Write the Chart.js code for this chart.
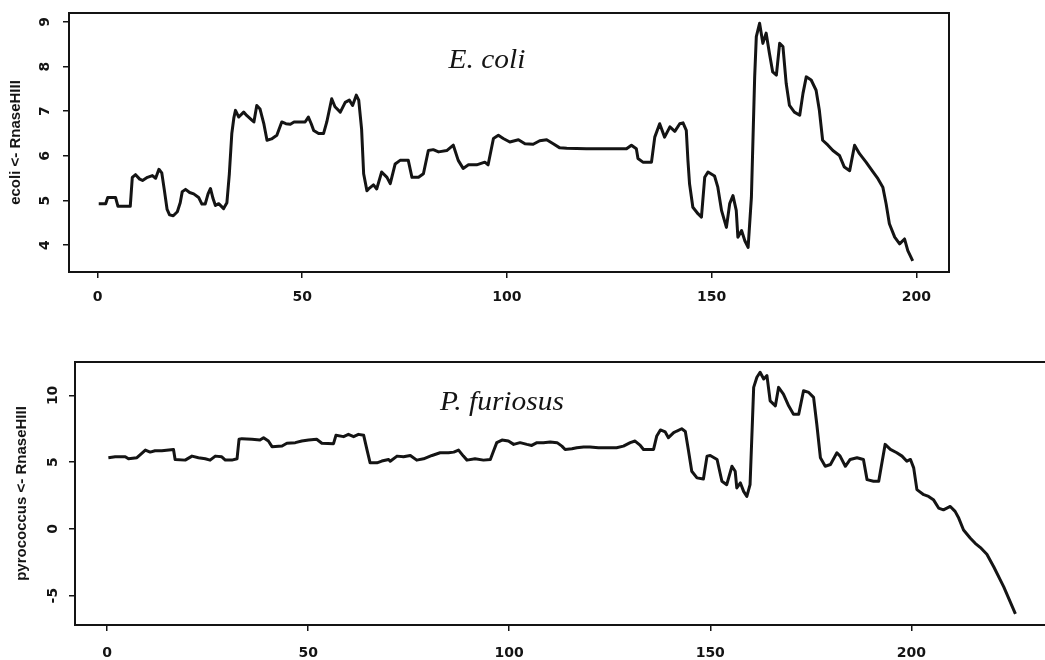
<!DOCTYPE html>
<html>
<head>
<meta charset="utf-8">
<title>RnaseHIII</title>
<script src="https://cdn.jsdelivr.net/npm/chart.js@4.4.1/dist/chart.umd.min.js"></script>
<style>
    html, body { margin: 0; padding: 0; background: #fff; overflow: hidden; }
    body { width: 1045px; height: 660px; position: relative; }
    .panel { position: absolute; left: 0; }
    #panel-ecoli { top: 0; }
    #panel-pyro  { top: 330px; }
</style>
</head>
<body>
<div class="panel" id="panel-ecoli"><canvas id="chart-ecoli" width="1045" height="322"></canvas></div>
<div class="panel" id="panel-pyro"><canvas id="chart-pyro" width="1060" height="330"></canvas></div>

<script>
/* global Chart */

// =========================================================
// Data — sliding-window profile along the sequence
// =========================================================
var ecoliPos = [
    0.3, 2, 2.5, 4.4, 5, 8, 8.5, 9.3, 10.3, 11,
    12.2, 13.4, 14.2, 15, 15.7, 16.3, 17, 17.6, 18.5, 19.5,
    20.2, 20.7, 21.5, 22.5, 23.5, 24.7, 25.5, 26.3, 27, 27.6,
    28.2, 28.8, 29.6, 30.8, 31.6, 32.2, 32.8, 33.3, 33.7, 34.5,
    35.7, 36.5, 37.7, 38.2, 38.9, 39.7, 40.6, 41.4, 42.5, 43.8,
    45, 46, 47.1, 48, 50.7, 51.5, 52.2, 52.8, 54, 55.2,
    56, 57.2, 58, 59.3, 60.5, 61.5, 62.3, 63.2, 63.8, 64.5,
    65, 65.8, 66.2, 67.4, 68.2, 69.4, 70.7, 71.5, 72.7, 73.9,
    75.9, 76.8, 78.4, 79.6, 80.8, 82, 83.3, 85.3, 86.9, 88.1,
    89.3, 90.6, 92.6, 94.6, 95.4, 96.7, 97.9, 99.1, 100.7, 102.8,
    104.4, 106.4, 108, 109.7, 111.3, 112.9, 114.6, 119.4, 129.2, 130.4,
    131.6, 132, 133.2, 135.3, 136.1, 137.3, 138.5, 139.8, 141, 142.2,
    143, 143.8, 144.2, 144.6, 145.4, 146.7, 147.5, 148.3, 149.1, 150.7,
    151.5, 152.4, 153.6, 154.4, 155.2, 156, 156.4, 157.3, 158.1, 158.9,
    159.7, 160.1, 160.5, 160.9, 161.7, 162.5, 163.3, 164.1, 164.9, 165.8,
    166.6, 167.4, 168.2, 169, 170.2, 171.5, 172.3, 173.1, 174.3, 175.5,
    176.3, 177.1, 178.4, 179.6, 181.2, 182.4, 183.7, 184.9, 186.1, 187.7,
    189.4, 190.6, 191.8, 192.6, 193.4, 194.7, 195.9, 197.1, 197.9, 199.1
];
var ecoliVal = [
    4.93, 4.93, 5.07, 5.07, 4.87, 4.87, 5.52, 5.58, 5.48, 5.45,
    5.52, 5.56, 5.50, 5.70, 5.62, 5.25, 4.80, 4.68, 4.66, 4.75,
    4.95, 5.20, 5.25, 5.18, 5.15, 5.07, 4.92, 4.92, 5.15, 5.27,
    5.05, 4.89, 4.93, 4.82, 4.95, 5.60, 6.50, 6.85, 7.02, 6.87,
    6.98, 6.90, 6.80, 6.76, 7.13, 7.05, 6.73, 6.35, 6.38, 6.46,
    6.76, 6.72, 6.71, 6.76, 6.76, 6.87, 6.72, 6.57, 6.50, 6.50,
    6.76, 7.28, 7.10, 6.98, 7.20, 7.25, 7.13, 7.36, 7.25, 6.60,
    5.60, 5.22, 5.26, 5.35, 5.26, 5.64, 5.52, 5.38, 5.82, 5.90,
    5.90, 5.52, 5.52, 5.60, 6.12, 6.14, 6.09, 6.12, 6.24, 5.90,
    5.72, 5.80, 5.80, 5.86, 5.80, 6.39, 6.46, 6.39, 6.31, 6.36,
    6.27, 6.26, 6.34, 6.36, 6.27, 6.18, 6.17, 6.16, 6.16, 6.24,
    6.16, 5.94, 5.86, 5.86, 6.42, 6.72, 6.42, 6.65, 6.55, 6.72,
    6.74, 6.57, 5.90, 5.37, 4.85, 4.70, 4.63, 5.52, 5.64, 5.55,
    5.30, 4.78, 4.40, 4.93, 5.11, 4.78, 4.18, 4.33, 4.10, 3.95,
    5.07, 6.42, 7.77, 8.67, 8.97, 8.52, 8.75, 8.30, 7.88, 7.81,
    8.52, 8.45, 7.62, 7.13, 6.98, 6.91, 7.40, 7.77, 7.70, 7.47,
    7.02, 6.35, 6.24, 6.12, 6.01, 5.75, 5.67, 6.24, 6.05, 5.86,
    5.64, 5.49, 5.30, 4.93, 4.48, 4.18, 4.03, 4.14, 3.88, 3.65
];

var pyroPos = [
    0.3, 2, 4.5, 5.3, 7.4, 8.6, 9.5, 10.7, 11.9, 13.6,
    16.5, 16.9, 19.4, 21.1, 22.7, 24.4, 25.6, 26.9, 28.5, 29.4,
    31, 32.3, 32.8, 33.5, 36, 38, 38.9, 40.1, 41, 43.5,
    44.7, 46.8, 48.4, 50.1, 52.1, 53.4, 56.3, 56.9, 58.8, 60,
    61.3, 62.5, 63.8, 64.6, 65.4, 67.1, 68.3, 70, 70.4, 72.1,
    73.7, 75.4, 77, 78.7, 80.8, 82.8, 84.9, 86.2, 87.4, 88.6,
    89.5, 91.5, 93.6, 95.3, 96.1, 96.9, 98.2, 99.8, 101.1, 102.7,
    104.4, 105.6, 106.9, 108.5, 110.2, 111.9, 113.1, 113.9, 115.6, 116.8,
    118.5, 120.1, 122.2, 124.3, 126.7, 128.4, 130.1, 131.3, 132.6, 133.4,
    135.9, 136.7, 137.6, 138.8, 139.6, 140.9, 141.7, 142.9, 143.8, 144.6,
    145.4, 146.7, 148.3, 149.2, 150, 151.7, 152.9, 154.1, 155.4, 156.2,
    156.6, 157.5, 158.3, 159.1, 159.9, 160.4, 160.8, 161.6, 162.4, 163.3,
    164.1, 164.9, 166.2, 167, 168.2, 169.5, 170.7, 172, 173.2, 174.5,
    175.7, 176.5, 177.4, 178.6, 179.9, 181.5, 182.3, 183.6, 184.8, 186.5,
    188.1, 189, 190.6, 191.9, 192.7, 193.5, 194.8, 196.4, 197.7, 198.9,
    199.8, 200.6, 201.4, 203.1, 204.3, 205.5, 206.8, 208, 209.7, 210.9,
    211.8, 213, 214.7, 215.9, 217.2, 218.8, 220.5, 223, 225.9
];
var pyroVal = [
    5.33, 5.40, 5.40, 5.25, 5.33, 5.65, 5.90, 5.75, 5.85, 5.85,
    5.95, 5.20, 5.15, 5.45, 5.33, 5.25, 5.15, 5.45, 5.40, 5.15,
    5.15, 5.25, 6.71, 6.76, 6.71, 6.66, 6.83, 6.58, 6.16, 6.21,
    6.41, 6.46, 6.58, 6.66, 6.71, 6.41, 6.38, 7.01, 6.91, 7.08,
    6.91, 7.08, 7.01, 5.95, 4.95, 4.95, 5.08, 5.20, 5.07, 5.45,
    5.40, 5.50, 5.15, 5.25, 5.50, 5.70, 5.70, 5.75, 5.90, 5.45,
    5.15, 5.25, 5.15, 5.20, 5.83, 6.46, 6.65, 6.58, 6.33, 6.46,
    6.33, 6.25, 6.46, 6.46, 6.51, 6.46, 6.20, 5.95, 6.00, 6.08,
    6.13, 6.13, 6.08, 6.08, 6.08, 6.20, 6.46, 6.58, 6.25, 5.95,
    5.95, 6.96, 7.41, 7.26, 6.83, 7.21, 7.33, 7.50, 7.30, 5.83,
    4.32, 3.82, 3.73, 5.45, 5.50, 5.20, 3.57, 3.31, 4.69, 4.32,
    3.07, 3.44, 2.81, 2.43, 3.31, 7.33, 10.60, 11.36, 11.73, 11.23,
    11.48, 9.59, 9.22, 10.60, 10.10, 9.22, 8.59, 8.59, 10.35, 10.22,
    9.85, 7.84, 5.33, 4.69, 4.82, 5.70, 5.45, 4.69, 5.20, 5.33,
    5.20, 3.69, 3.57, 3.57, 4.95, 6.33, 5.95, 5.70, 5.45, 5.07,
    5.20, 4.57, 2.94, 2.56, 2.43, 2.19, 1.56, 1.43, 1.68, 1.31,
    0.81, -0.08, -0.70, -1.08, -1.40, -1.90, -2.84, -4.35, -6.36
];

// tick labels
var ecoliXTicks = [0, 50, 100, 150, 200];
var ecoliYTicks = [4, 5, 6, 7, 8, 9];
var pyroXTicks  = [0, 50, 100, 150, 200];
var pyroYTicks  = [-5, 0, 5, 10];

// =========================================================
// Shared look
// =========================================================
var INK = '#141414';

function toPoints(pos, val) {
    return pos.map(function (x, i) { return { x: x, y: val[i] }; });
}

// Box round the plot, rotated y labels and the italic species name.
var framePlugin = {
    id: 'frame',
    afterDraw: function (chart) {
        var o   = chart.options.plugins.frame;
        var ctx = chart.ctx;
        var a   = chart.chartArea;
        var ys  = chart.scales.y;

        ctx.save();
        ctx.strokeStyle = INK;
        ctx.lineWidth = 2;
        ctx.strokeRect(a.left, a.top, a.right - a.left, a.bottom - a.top);

        // y labels run along the axis, like base graphics
        ctx.fillStyle = INK;
        ctx.font = 'bold 14px "DejaVu Sans"';
        ctx.textAlign = 'center';
        ctx.textBaseline = 'middle';
        o.yTicks.forEach(function (v) {
            var py = ys.getPixelForValue(v);
            ctx.save();
            ctx.translate(a.left - o.labelGap, py);
            ctx.rotate(-Math.PI / 2);
            ctx.fillText(String(v), 0, 0);
            ctx.restore();
        });

        // species name
        ctx.font = 'italic 27px "Liberation Serif"';
        ctx.textBaseline = 'alphabetic';
        ctx.translate(o.nameX, o.nameY);
        ctx.scale(1.09, 1);
        ctx.fillText(o.name, 0, 0);
        ctx.restore();
    }
};

function makeChart(canvasId, cfg) {
    var el = document.getElementById(canvasId);
    return new Chart(el, {
        type: 'line',
        data: {
            datasets: [{
                data:        toPoints(cfg.pos, cfg.val),
                borderColor: INK,
                borderWidth: 3,
                pointRadius: 0,
                tension:     0,
                fill:        false,
                borderJoinStyle: 'round'
            }]
        },
        options: {
            responsive: false,
            animation: false,
            events: [],
            layout: { padding: cfg.padding },
            plugins: {
                legend:  { display: false },
                tooltip: { enabled: false },
                frame: {
                    yTicks:   cfg.yTicks,
                    labelGap: cfg.labelGap,
                    name:     cfg.name,
                    nameX:    cfg.nameX,
                    nameY:    cfg.nameY
                }
            },
            scales: {
                x: {
                    type: 'linear',
                    min: cfg.xMin,
                    max: cfg.xMax,
                    border: { display: false },
                    grid: {
                        drawOnChartArea: false,
                        drawTicks: true,
                        tickLength: 6,
                        color: INK,
                        lineWidth: 1.5
                    },
                    ticks: {
                        color: INK,
                        padding: cfg.xLabelPad,
                        maxRotation: 0,
                        font: { family: '"DejaVu Sans"', size: 14, weight: 'bold' }
                    },
                    afterBuildTicks: function (s) {
                        s.ticks = cfg.xTicks.map(function (v) { return { value: v }; });
                    },
                    afterFit: function (s) { s.height = cfg.xAxisH; }
                },
                y: {
                    type: 'linear',
                    min: cfg.yMin,
                    max: cfg.yMax,
                    border: { display: false },
                    grid: {
                        drawOnChartArea: false,
                        drawTicks: true,
                        tickLength: 6,
                        color: INK,
                        lineWidth: 1.5
                    },
                    ticks: { display: false },
                    afterBuildTicks: function (s) {
                        s.ticks = cfg.yTicks.map(function (v) { return { value: v }; });
                    },
                    afterFit: function (s) { s.width = cfg.yAxisW; },
                    title: {
                        display: true,
                        text: cfg.yTitle,
                        color: INK,
                        padding: { top: cfg.titlePad, bottom: 0 },
                        font: { family: '"Liberation Sans"', size: 15, weight: 'bold' }
                    }
                }
            }
        },
        plugins: [framePlugin]
    });
}

// =========================================================
// Panels
// =========================================================
makeChart('chart-ecoli', {
    pos: ecoliPos, val: ecoliVal,
    xTicks: ecoliXTicks, yTicks: ecoliYTicks,
    xMin: -6.96, xMax: 207.96, yMin: 3.4, yMax: 9.2,
    padding: { left: 0, top: 13, right: 96, bottom: 0 },
    yAxisW: 69, xAxisH: 50, xLabelPad: 11, labelGap: 24, titlePad: 7,
    yTitle: 'ecoli <- RnaseHIII',
    name: 'E. coli', nameX: 487, nameY: 68
});

makeChart('chart-pyro', {
    pos: pyroPos, val: pyroVal,
    xTicks: pyroXTicks, yTicks: pyroYTicks,
    xMin: -8, xMax: 235, yMin: -7.2, yMax: 12.5,
    padding: { left: 0, top: 32, right: 8, bottom: 0 },
    yAxisW: 75, xAxisH: 35, xLabelPad: 14, labelGap: 22, titlePad: 13,
    yTitle: 'pyrococcus <- RnaseHIII',
    name: 'P. furiosus', nameX: 502, nameY: 80
});
</script>
</body>
</html>
